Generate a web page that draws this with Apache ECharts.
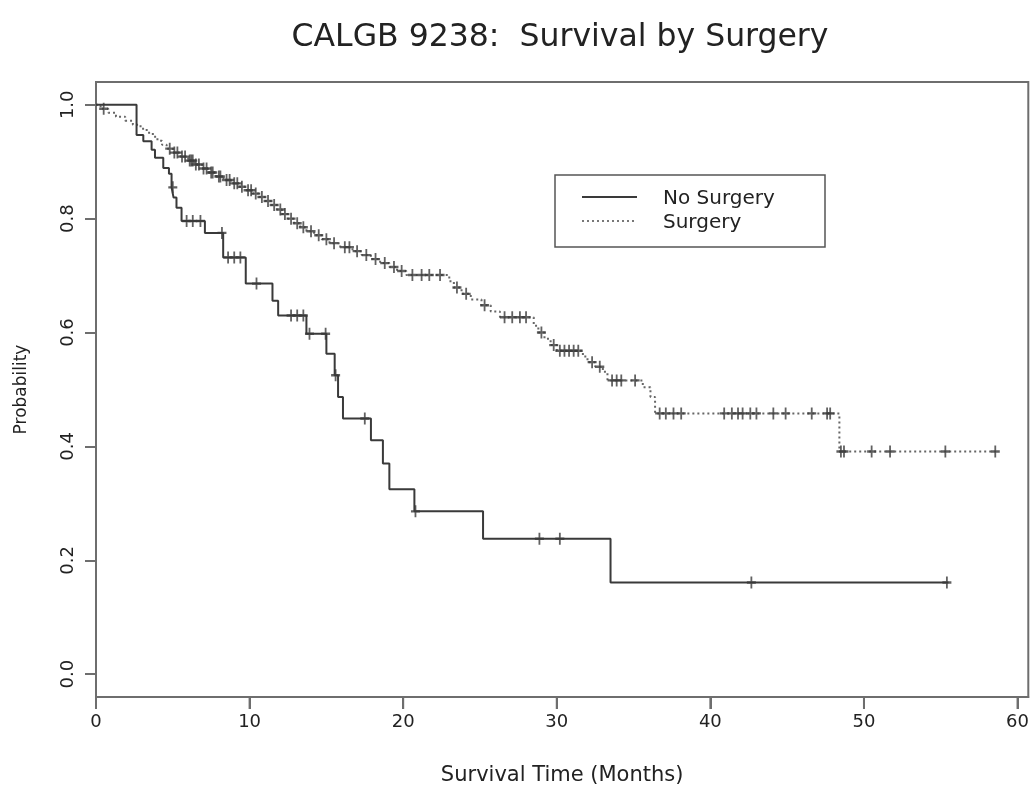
<!DOCTYPE html>
<html><head><meta charset="utf-8">
<script src="https://cdn.jsdelivr.net/npm/echarts@6/dist/echarts.min.js"></script>
<style>html,body{margin:0;padding:0;background:#fff}#c{width:1032px;height:791px}</style>
</head><body><div id="c"></div>
<script>
const chartTitle = 'CALGB 9238:  Survival by Surgery';
const xTitle = 'Survival Time (Months)';
const yTitle = 'Probability';
const seriesNames = ['No Surgery', 'Surgery'];
const xTicks = [0, 10, 20, 30, 40, 50, 60];
const yTicks = [0, 0.2, 0.4, 0.6, 0.8, 1.0];
const xRange = [0, 60.7];
const yRange = [-0.04, 1.04];

// Kaplan-Meier steps: [time (months), survival after the event]
const noSurgerySteps = [[0,1],[2.64,0.947],[3.08,0.936],[3.62,0.921],[3.84,0.907],[4.38,0.889],[4.75,0.879],[4.92,0.855],[5.05,0.837],[5.24,0.819],[5.57,0.796],[7.09,0.775],[8.28,0.732],[9.75,0.686],[11.49,0.656],[11.86,0.630],[13.7,0.598],[15.0,0.563],[15.54,0.525],[15.76,0.487],[16.08,0.449],[17.9,0.411],[18.68,0.370],[19.1,0.325],[20.73,0.286],[25.2,0.238],[33.5,0.161],[55.5,0.161]];
const noSurgeryCensored = [[5.0,0.855],[5.9,0.796],[6.3,0.796],[6.8,0.796],[8.2,0.775],[8.6,0.732],[9.0,0.732],[9.4,0.732],[10.45,0.686],[12.7,0.630],[13.1,0.630],[13.5,0.630],[13.9,0.598],[14.95,0.598],[15.6,0.525],[17.5,0.449],[20.8,0.286],[28.87,0.238],[30.2,0.238],[42.67,0.161],[55.4,0.161]];

const surgerySteps = [[0,1],[0.3,0.993],[0.8,0.986],[1.3,0.979],[1.9,0.972],[2.4,0.965],[2.9,0.958],[3.3,0.951],[3.7,0.944],[4.0,0.937],[4.3,0.930],[4.6,0.923],[5.0,0.916],[5.5,0.909],[6.0,0.902],[6.4,0.895],[6.9,0.888],[7.3,0.881],[7.8,0.874],[8.3,0.868],[8.8,0.862],[9.3,0.856],[9.7,0.850],[10.2,0.844],[10.6,0.838],[11.0,0.831],[11.4,0.824],[11.8,0.816],[12.1,0.808],[12.5,0.800],[12.9,0.792],[13.3,0.785],[13.7,0.778],[14.2,0.771],[14.7,0.764],[15.2,0.757],[15.9,0.750],[16.7,0.743],[17.3,0.736],[17.9,0.729],[18.5,0.722],[19.1,0.715],[19.6,0.708],[20.2,0.701],[23.0,0.690],[23.3,0.679],[23.8,0.668],[24.4,0.658],[25.1,0.648],[25.7,0.637],[26.3,0.627],[28.5,0.612],[28.8,0.600],[29.2,0.589],[29.6,0.578],[30.0,0.568],[31.7,0.558],[32.0,0.548],[32.5,0.540],[33.0,0.531],[33.3,0.516],[35.6,0.504],[36.1,0.487],[36.4,0.458],[48.4,0.391],[58.6,0.391]];
const surgeryCensored = [[0.5,0.993],[4.8,0.923],[5.1,0.916],[5.3,0.916],[5.6,0.909],[5.8,0.909],[6.1,0.902],[6.2,0.902],[6.3,0.902],[6.5,0.895],[6.7,0.895],[7.0,0.888],[7.2,0.888],[7.5,0.881],[7.6,0.881],[8.0,0.874],[8.1,0.874],[8.5,0.868],[8.7,0.868],[9.0,0.862],[9.2,0.862],[9.5,0.856],[9.9,0.850],[10.1,0.850],[10.4,0.844],[10.8,0.838],[11.2,0.831],[11.6,0.824],[12.0,0.816],[12.3,0.808],[12.7,0.800],[13.1,0.792],[13.5,0.785],[14.0,0.778],[14.5,0.771],[15.0,0.764],[15.5,0.757],[16.2,0.750],[16.5,0.750],[17.0,0.743],[17.6,0.736],[18.2,0.729],[18.8,0.722],[19.4,0.715],[19.9,0.708],[20.6,0.701],[21.2,0.701],[21.7,0.701],[22.4,0.701],[23.5,0.679],[24.1,0.668],[25.3,0.648],[26.6,0.627],[27.1,0.627],[27.6,0.627],[28.0,0.627],[29.0,0.600],[29.8,0.578],[30.2,0.568],[30.5,0.568],[30.8,0.568],[31.1,0.568],[31.4,0.568],[32.3,0.548],[32.8,0.540],[33.6,0.516],[33.9,0.516],[34.2,0.516],[35.1,0.516],[36.7,0.458],[37.1,0.458],[37.6,0.458],[38.1,0.458],[40.9,0.458],[41.4,0.458],[41.8,0.458],[42.1,0.458],[42.6,0.458],[43.0,0.458],[44.1,0.458],[44.9,0.458],[46.6,0.458],[47.6,0.458],[47.8,0.458],[48.5,0.391],[48.7,0.391],[50.5,0.391],[51.7,0.391],[55.3,0.391],[58.55,0.391]];

const FONT = 'DejaVu Sans';
const AXIS = '#6e6e6e';
const INK = '#3a3a3a';
const TICK_LEN = 12;
const plusPath = 'path://M4,0H6V4H10V6H6V10H4V6H0V4H4Z';

const chart = echarts.init(document.getElementById('c'), null, {renderer: 'canvas'});
chart.setOption({
  animation: false,
  backgroundColor: '#fff',
  grid: {left: 96, right: 2, top: 82, bottom: 94, show: true, borderColor: AXIS, borderWidth: 2},
  xAxis: {
    type: 'value', min: xRange[0], max: xRange[1],
    name: xTitle, nameLocation: 'middle', nameGap: 68,
    nameTextStyle: {fontFamily: FONT, fontSize: 21, color: '#222'},
    axisLine: {show: true, onZero: false, lineStyle: {color: AXIS, width: 2}},
    axisTick: {show: true, length: TICK_LEN, customValues: xTicks, lineStyle: {color: AXIS, width: 2}},
    axisLabel: {customValues: xTicks, margin: 16, fontFamily: FONT, fontSize: 18, color: '#222'},
    splitLine: {show: false}
  },
  yAxis: {
    type: 'value', min: yRange[0], max: yRange[1],
    name: yTitle, nameLocation: 'middle', nameGap: 66,
    nameTextStyle: {fontFamily: FONT, fontSize: 17, color: '#222'},
    axisLine: {show: true, onZero: false, lineStyle: {color: AXIS, width: 2}},
    axisTick: {show: true, length: 11, customValues: yTicks, lineStyle: {color: AXIS, width: 2}},
    axisLabel: {customValues: yTicks, rotate: 90, margin: 19, fontFamily: FONT, fontSize: 18, color: '#222',
      formatter: v => v.toFixed(1)},
    splitLine: {show: false}
  },
  graphic: [
    {type: 'text', x: 560, y: 38, style: {text: chartTitle, fontFamily: FONT, fontSize: 31.5, fill: '#222', textAlign: 'center', textVerticalAlign: 'middle'}},
    {type: 'rect', shape: {x: 555, y: 175, width: 270, height: 72}, style: {fill: 'none', stroke: '#555', lineWidth: 1.5}},
    {type: 'line', shape: {x1: 582, y1: 197, x2: 637, y2: 197}, style: {stroke: INK, lineWidth: 2}},
    {type: 'line', shape: {x1: 582, y1: 221, x2: 637, y2: 221}, style: {stroke: '#777', lineWidth: 2, lineDash: [2, 3]}},
    {type: 'text', x: 663, y: 199, style: {text: seriesNames[0], fontFamily: FONT, fontSize: 20, fill: '#222', textVerticalAlign: 'middle'}},
    {type: 'text', x: 663, y: 223, style: {text: seriesNames[1], fontFamily: FONT, fontSize: 20, fill: '#222', textVerticalAlign: 'middle'}}
  ],
  series: [
    {name: seriesNames[0], type: 'line', step: 'end', data: noSurgerySteps, symbol: 'none', z: 3,
      lineStyle: {color: INK, width: 2}},
    {name: seriesNames[1], type: 'line', step: 'end', data: surgerySteps, symbol: 'none', z: 2,
      lineStyle: {color: '#666', width: 2, type: [2, 3]}},
    {name: seriesNames[0] + ' (censored)', type: 'scatter', data: noSurgeryCensored, symbol: plusPath, symbolSize: [9, 12], z: 4,
      itemStyle: {color: INK}},
    {name: seriesNames[1] + ' (censored)', type: 'scatter', data: surgeryCensored, symbol: plusPath, symbolSize: [9, 12], z: 4,
      itemStyle: {color: INK}},
    {name: 'x ticks', type: 'custom', clip: false, silent: true, z: 1,
      data: xTicks.map(v => [v]),
      renderItem: (params, api) => {
        const p = api.coord([api.value(0), yRange[0]]);
        return {type: 'line', shape: {x1: p[0], y1: p[1], x2: p[0], y2: p[1] + TICK_LEN},
          style: {stroke: AXIS, lineWidth: 2}};
      }}
  ]
});
</script>
</body></html>
